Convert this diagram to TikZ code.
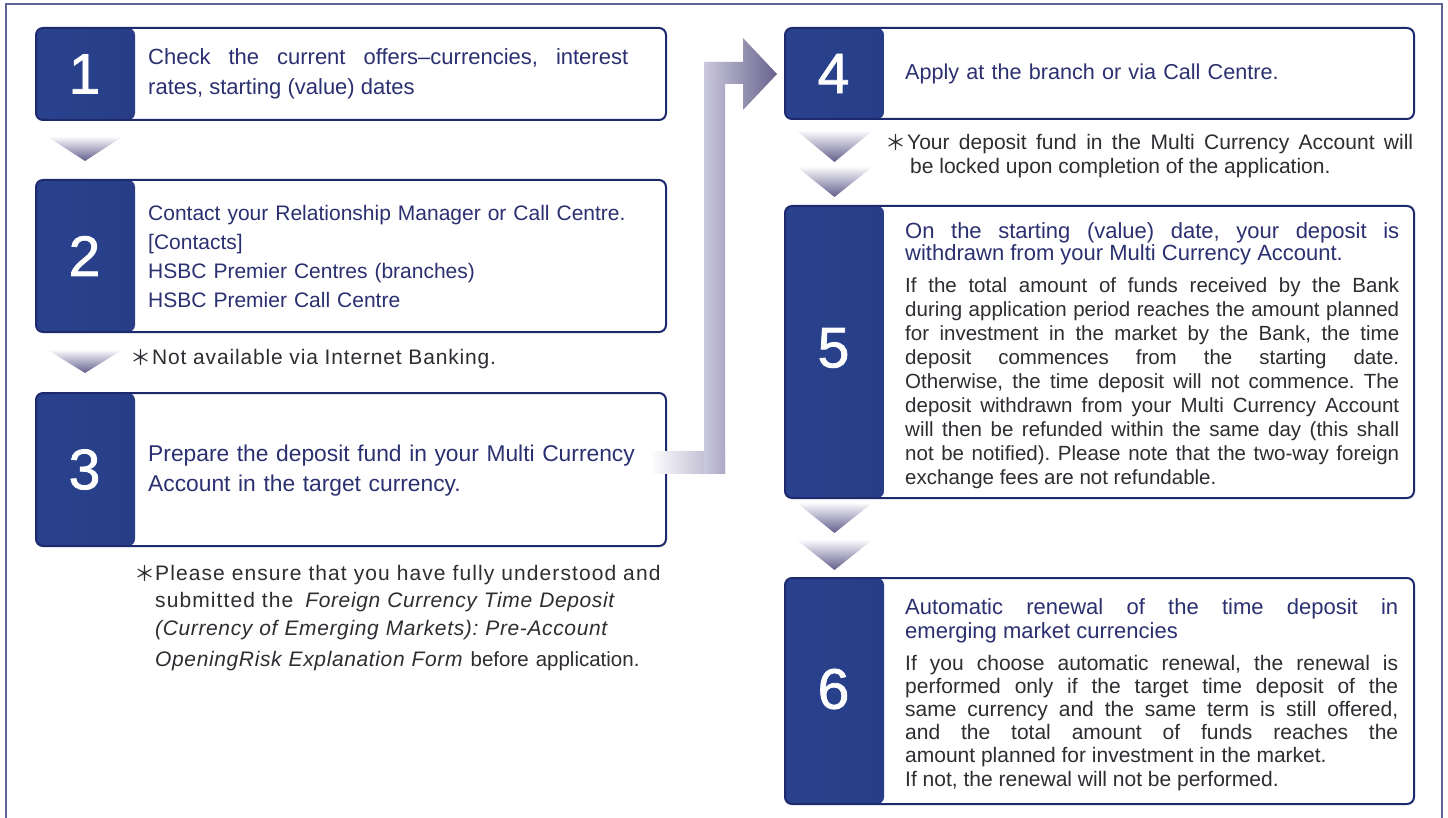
\documentclass[tikz,border=0pt]{standalone}
\usepackage{fontspec}
\setmainfont{Liberation Sans}
\newfontfamily\notefont[LetterSpace=4]{Liberation Sans}
\newfontfamily\notefontb[LetterSpace=5.2]{Liberation Sans}
\newfontfamily\noteit[LetterSpace=3]{Liberation Sans}
\newfontfamily\numfont[FakeBold=1.3]{Liberation Sans}
\newfontfamily\starfont{Noto Sans CJK JP}
\definecolor{navy}{RGB}{30,42,110}
\definecolor{panelL}{RGB}{42,66,142}
\definecolor{panelR}{RGB}{24,35,96}
\definecolor{txtnavy}{RGB}{42,48,112}
\definecolor{txtgray}{RGB}{45,45,50}
\definecolor{chevtop}{RGB}{250,250,253}
\definecolor{chevbot}{RGB}{98,93,138}
\definecolor{connL}{RGB}{202,200,220}
\definecolor{connM}{RGB}{172,169,197}
\definecolor{connD}{RGB}{104,99,141}
\definecolor{framecol}{RGB}{95,100,150}
\newcommand\mychev[4]{\shade[top color=chevtop, bottom color=chevbot]
  (#1-#3/2,#2) -- (#1+#3/2,#2) -- (#1,#2+#4) -- cycle;}
\tikzset{
  stepbox/.style={draw=navy, line width=2pt, rounded corners=7pt, fill=white,
    anchor=north west, inner sep=0pt, minimum height=#1,
    path picture={\shade[left color=panelL, right color=panelR]
      (path picture bounding box.north west) rectangle
      ([xshift=99pt]path picture bounding box.south west);}},
  leftbox/.style={stepbox=#1, minimum width=630pt},
  rightbox/.style={stepbox=#1, minimum width=629pt},
  numlabel/.style={text=white, font=\numfont\fontsize{57}{57}\selectfont, inner sep=0pt},
  boxtext/.style={anchor=base west, inner sep=0pt, text=txtnavy},
  bodytext/.style={anchor=base west, inner sep=0pt, text=txtgray},
  notetext/.style={anchor=base west, inner sep=0pt, text=txtgray,
    font=\notefont\fontsize{21}{27.5}\selectfont},
  star/.style={anchor=base west, inner sep=0pt, text=txtgray,
    font=\starfont\fontsize{21}{21}\selectfont}
}
\begin{document}
\frenchspacing
\begin{tikzpicture}[x=1pt,y=-1pt]
\useasboundingbox (0,0) rectangle (1448,818);
\fill[white] (0,0) rectangle (1448,818);
% outer frame
\draw[framecol, line width=1.2pt] (6,818) -- (6,4) -- (1442,4) -- (1442,818);

\coordinate (cA) at (650,462);
\coordinate (cD) at (777,74);

% boxes
\node[leftbox=92pt] (b1) at (35,27) {};
\node[leftbox=152pt] (b2) at (35,179) {};
\node[leftbox=153pt] (b3) at (35,392) {};
\node[rightbox=91pt] (b4) at (784,27) {};
\node[rightbox=292pt] (b5) at (784,205) {};
\node[rightbox=226pt] (b6) at (784,577) {};

% connector 3 -> 4
\shade[left color=white, right color=connM] (cA |- 0,451) rectangle (725,473);
\shade[left color=connL, right color=connM] (704,84) rectangle (725,473);
\shade[left color=connL, right color=connD] (704,62) -- (743,62) -- (743,38) -- (cD)
  -- (743,110) -- (743,84) -- (704,84) -- cycle;

% numbers
\node[numlabel] (n1) at ([xshift=49.5pt]b1.west) {1};
\node[numlabel] (n2) at ([xshift=49.5pt]b2.west) {2};
\node[numlabel] (n3) at ([xshift=49.5pt]b3.west) {3};
\node[numlabel] (n4) at ([xshift=49.5pt]b4.west) {4};
\node[numlabel] (n5) at ([xshift=49.5pt,yshift=4pt]b5.west) {5};
\node[numlabel] (n6) at ([xshift=49.5pt,yshift=2pt]b6.west) {6};

% chevrons
\mychev{85}{137}{74}{24}
\mychev{85}{350}{74}{23}
\mychev{834.5}{131}{75}{31}
\mychev{834.5}{167}{75}{30}
\mychev{834.5}{503}{75}{30}
\mychev{834.5}{540}{75}{30}

% box texts
\node[boxtext, text width=480pt, align=justify, font=\fontsize{22}{30}\selectfont] (t1) at (148,65)
 {Check the current offers–currencies, interest\linebreak rates, starting (value) dates};
\node[boxtext, text width=520pt, align=left, font=\fontsize{21}{29}\selectfont] (t2) at (148,221)
 {Contact your Relationship Manager or Call Centre.\\{[Contacts]}\\HSBC Premier Centres (branches)\\HSBC Premier Call Centre};
\node[boxtext, text width=510pt, align=left, font=\fontsize{22.8}{30}\selectfont] (t3) at (148,461)
 {Prepare the deposit fund in your Multi Currency\\Account in the target currency.};
\node[boxtext, text width=500pt, align=left, font=\fontsize{21.6}{30}\selectfont] (t4) at (905,80)
 {Apply at the branch or via Call Centre.};
\node[boxtext, text width=494pt, align=justify, font=\fontsize{22}{22}\selectfont] (t5a) at (905,239)
 {On the starting (value) date, your deposit is\linebreak withdrawn from your Multi Currency Account.};
\node[bodytext, text width=494pt, align=justify, font=\fontsize{20.5}{23.9}\selectfont] (t5b) at (905,293)
 {If the total amount of funds received by the Bank\linebreak during application period reaches the amount planned\linebreak for investment in the market by the Bank, the time\linebreak deposit commences from the starting date.\linebreak Otherwise, the time deposit will not commence. The\linebreak deposit withdrawn from your Multi Currency Account\linebreak will then be refunded within the same day (this shall\linebreak not be notified). Please note that the two-way foreign\linebreak exchange fees are not refundable.};
\node[boxtext, text width=493pt, align=justify, font=\fontsize{22}{24}\selectfont] (t6a) at (905,614)
 {Automatic renewal of the time deposit in\linebreak emerging market currencies};
\node[bodytext, text width=493pt, align=justify, font=\fontsize{21}{23.2}\selectfont] (t6b) at (905,670)
 {If you choose automatic renewal, the renewal is\linebreak performed only if the target time deposit of the\linebreak same currency and the same term is still offered,\linebreak and the total amount of funds reaches the\linebreak amount planned for investment in the market.\\If not, the renewal will not be performed.};

% notes
\node[star] (s2) at (130,365) {＊};
\node[notetext] (m2) at (152,364) {Not available via Internet Banking.};
\node[star] (s4) at (885,151) {＊};
\node[notetext, font=\fontsize{21}{24}\selectfont, text width=506pt, align=justify] (m4) at (907,150)
 {Your deposit fund in the Multi Currency Account will\linebreak \hspace*{3pt}be locked upon completion of the application.};
\node[star] (s3) at (134,581) {＊};
\node[notetext, text width=530pt, align=left] (m3) at (155,580)
 {{\notefontb Please ensure that you have fully understood and}\\{\notefontb submitted the}\hspace{12pt}{\noteit\itshape Foreign Currency Time Deposit}\\{\noteit\itshape (Currency of Emerging Markets): Pre-Account}\\[4pt]{\noteit\itshape OpeningRisk Explanation Form}\hspace{8pt}{\normalfont\fontsize{20.5}{20}\selectfont before application.}};
\end{tikzpicture}
\end{document}
